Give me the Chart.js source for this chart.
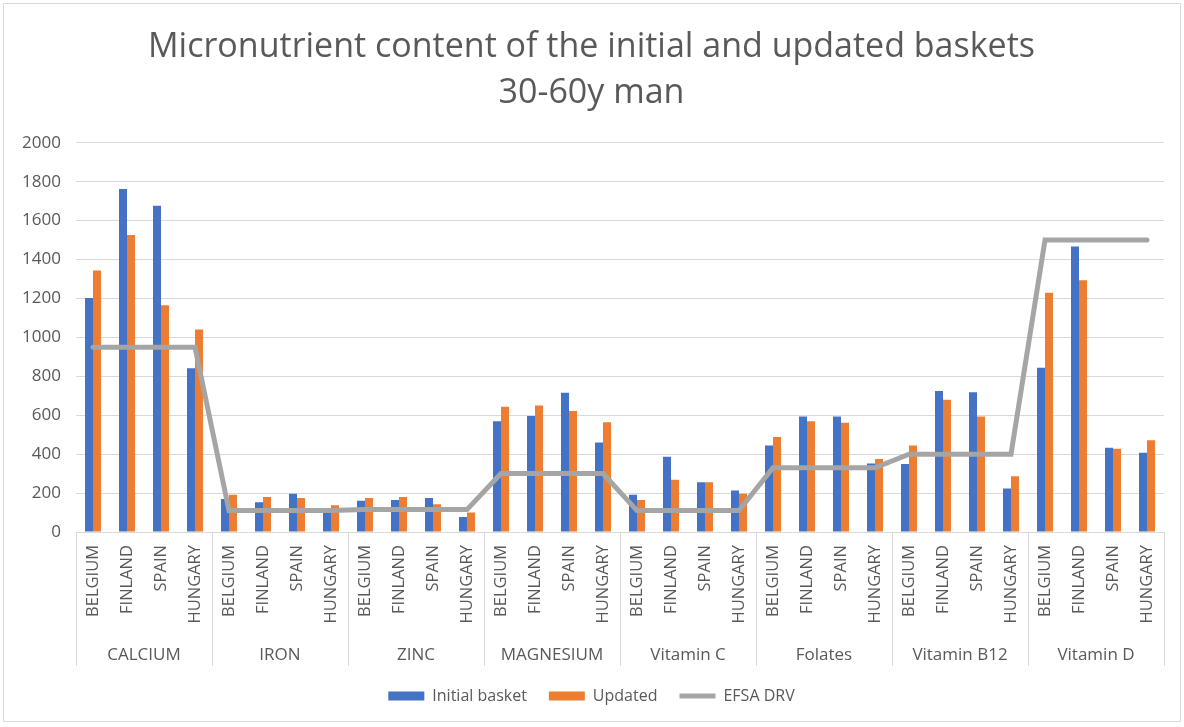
<!DOCTYPE html>
<html>
<head>
<meta charset="utf-8">
<script src="https://cdn.jsdelivr.net/npm/chart.js@4/dist/chart.umd.min.js"></script>
<style>
  body { margin: 0; background: #fff; }
  #wrap { position: absolute; left: 3px; top: 3px; width: 1176px; height: 717px; border: 1px solid #D9D9D9; }
</style>
</head>
<body>
<div id="wrap"><canvas id="myChart"></canvas></div>
<script>
const groups = ['CALCIUM', 'IRON', 'ZINC', 'MAGNESIUM', 'Vitamin C', 'Folates', 'Vitamin B12', 'Vitamin D'];
const countries = ['BELGIUM', 'FINLAND', 'SPAIN', 'HUNGARY'];

const initialBasket = [1203, 1763, 1677, 842, 170, 153, 196, 105, 160, 165, 175, 77,
  569, 596, 715, 460, 192, 387, 256, 213, 445, 594, 594, 352,
  349, 725, 718, 223, 844, 1467, 433, 407];
const updatedBasket = [1344, 1526, 1165, 1041, 191, 180, 175, 138, 175, 180, 143, 100,
  644, 650, 622, 564, 165, 268, 256, 197, 488, 569, 562, 375,
  445, 680, 594, 287, 1230, 1294, 428, 471];
const efsaDrv = [950, 950, 950, 950, 110, 110, 110, 110, 115, 115, 115, 115,
  300, 300, 300, 300, 110, 110, 110, 110, 330, 330, 330, 330,
  400, 400, 400, 400, 1500, 1500, 1500, 1500];

const labels = groups.flatMap(() => countries);
const FONT = '"Open Sans", Lato, sans-serif';
const TEXT = '#595959';

// group names and separators under the country labels
const groupAxis = {
  id: 'groupAxis',
  afterDraw(chart) {
    const { ctx } = chart;
    const x = chart.scales.x;
    ctx.save();
    ctx.strokeStyle = '#D9D9D9';
    ctx.lineWidth = 1;
    for (let g = 0; g <= groups.length; g++) {
      const px = Math.round(x.getPixelForValue(g * 4 - 0.5)) + 0.5;
      ctx.beginPath();
      ctx.moveTo(px, x.top);
      ctx.lineTo(px, x.bottom);
      ctx.stroke();
    }
    ctx.fillStyle = TEXT;
    ctx.font = '17px ' + FONT;
    ctx.textAlign = 'center';
    ctx.textBaseline = 'middle';
    groups.forEach((name, g) => {
      ctx.fillText(name, x.getPixelForValue(g * 4 + 1.5), x.bottom - 11);
    });
    ctx.restore();
  },
};

const ctx = document.getElementById('myChart').getContext('2d');

const chart = new Chart(ctx, {
  type: 'bar',
  data: {
    labels,
    datasets: [
      {
        label: 'Initial basket',
        data: initialBasket,
        backgroundColor: '#4472C4',
        pointStyle: 'rect',
        order: 1,
      },
      {
        label: 'Updated',
        data: updatedBasket,
        backgroundColor: '#ED7D31',
        pointStyle: 'rect',
        order: 1,
      },
      {
        type: 'line',
        label: 'EFSA DRV',
        data: efsaDrv,
        borderColor: '#A5A5A5',
        backgroundColor: '#A5A5A5',
        borderWidth: 5,
        pointRadius: 0,
        pointStyle: 'line',
        tension: 0,
        borderCapStyle: 'round',
        order: 0,
      },
    ],
  },
  options: {
    responsive: true,
    maintainAspectRatio: false,
    animation: false,
    layout: { padding: { left: 12, right: 13, top: 20, bottom: 7 } },
    datasets: { bar: { categoryPercentage: 0.47, barPercentage: 1 } },
    plugins: {
      title: {
        display: true,
        text: ['Micronutrient content of the initial and updated baskets', '30-60y man'],
        color: TEXT,
        font: { family: FONT, size: 34, weight: 'normal', lineHeight: 1.35 },
        padding: { top: 0, bottom: 27 },
      },
      legend: {
        position: 'bottom',
        labels: {
          color: TEXT,
          font: { family: FONT, size: 16 },
          usePointStyle: true,
          pointStyleWidth: 36,
          boxHeight: 9,
          padding: 22,
          sort: (a, b) => a.datasetIndex - b.datasetIndex,
        },
      },
      tooltip: { enabled: false },
    },
    scales: {
      x: {
        grid: { display: false, drawTicks: false },
        border: { display: true, color: '#D9D9D9', width: 1 },
        ticks: {
          autoSkip: false,
          minRotation: 90,
          maxRotation: 90,
          padding: 13,
          color: TEXT,
          font: { family: FONT, size: 16.5 },
        },
        afterFit: (scale) => { scale.height = 134; },
      },
      y: {
        min: 0,
        max: 2000,
        grid: { color: '#D9D9D9', lineWidth: 1, drawTicks: false },
        border: { display: false },
        ticks: {
          stepSize: 200,
          padding: 15,
          color: TEXT,
          font: { family: FONT, size: 17 },
          callback: (v) => String(v),
        },
        afterFit: (scale) => { scale.width = 60; },
      },
    },
  },
  plugins: [groupAxis],
});
</script>
</body>
</html>
